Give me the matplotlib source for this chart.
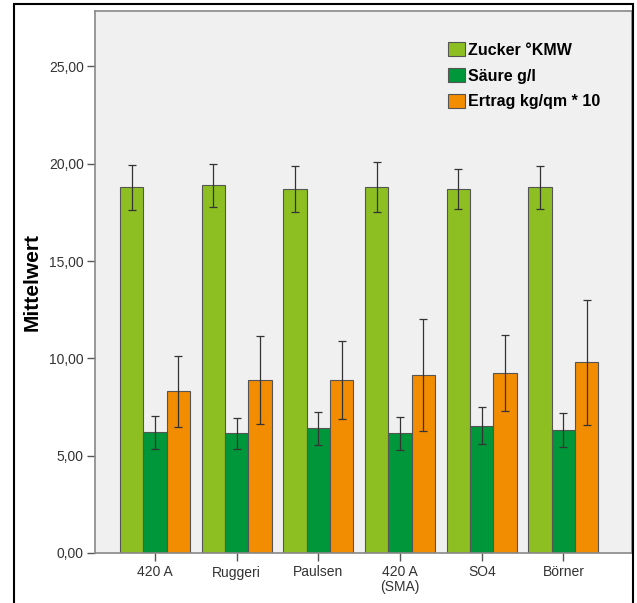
import matplotlib.pyplot as plt
import numpy as np
from matplotlib.patches import Rectangle

plt.rcParams['font.family'] = ['Liberation Sans', 'DejaVu Sans']

labels = ['420 A', 'Ruggeri', 'Paulsen', '420 A\n(SMA)', 'SO4', 'Börner']
series = ['Zucker °KMW', 'Säure g/l', 'Ertrag kg/qm * 10']
zucker = [18.8, 18.9, 18.7, 18.8, 18.7, 18.8]
zucker_err = [1.15, 1.1, 1.2, 1.27, 1.03, 1.1]
saeure = [6.2, 6.15, 6.4, 6.15, 6.55, 6.3]
saeure_err = [0.85, 0.8, 0.85, 0.85, 0.97, 0.87]
ertrag = [8.3, 8.9, 8.9, 9.15, 9.25, 9.8]
ertrag_err = [1.8, 2.27, 2.0, 2.87, 1.93, 3.2]

colors = ['#8dbf22', '#00973a', '#f28c00']

fig = plt.figure(figsize=(6.37, 6.03), dpi=100)
ax = fig.add_axes([95/637, 50/603, 537/637, 542/603])
ax.set_facecolor('#f0f0f0')

x = np.arange(len(labels))
w = 0.286
for i, (vals, errs) in enumerate([(zucker, zucker_err), (saeure, saeure_err), (ertrag, ertrag_err)]):
    ax.bar(x + (i - 1) * w, vals, w, color=colors[i], edgecolor='#555555',
           linewidth=0.8, label=series[i], zorder=2)
    ax.errorbar(x + (i - 1) * w, vals, yerr=errs, fmt='none', ecolor='#333333',
                elinewidth=0.9, capsize=3, capthick=0.9, zorder=3)

ax.set_xlim(-0.735, 5.84)
ax.set_ylim(0, 27.85)
ax.set_yticks([0, 5, 10, 15, 20, 25])
ax.set_yticklabels(['0,00', '5,00', '10,00', '15,00', '20,00', '25,00'])
ax.set_xticks(x)
ax.set_xticklabels(labels, linespacing=1.0)
ax.tick_params(axis='both', colors='#555555', labelcolor='#333333', labelsize=10, width=1)
ax.tick_params(axis='y', length=6, pad=2)
ax.tick_params(axis='x', length=6, pad=3)
for s in ax.spines.values():
    s.set_color('#888888')
    s.set_linewidth(1.2)
ax.set_ylabel('Mittelwert', fontsize=15, fontweight='bold')
ax.yaxis.set_label_coords(-53/537, 0.5)

leg = ax.legend(loc='upper left', bbox_to_anchor=(0.657, 0.942), frameon=False,
                prop={'size': 11.5, 'weight': 'bold'}, handlelength=1.05,
                handleheight=0.95, handletextpad=0.2, labelspacing=0.65,
                borderpad=0, borderaxespad=0)

fig.patches.append(Rectangle((14/637, -0.01), 619/637, 1.01 - 4/603,
                             transform=fig.transFigure, fill=False,
                             edgecolor='black', linewidth=1.5))

fig.savefig('out.png', dpi=100)
